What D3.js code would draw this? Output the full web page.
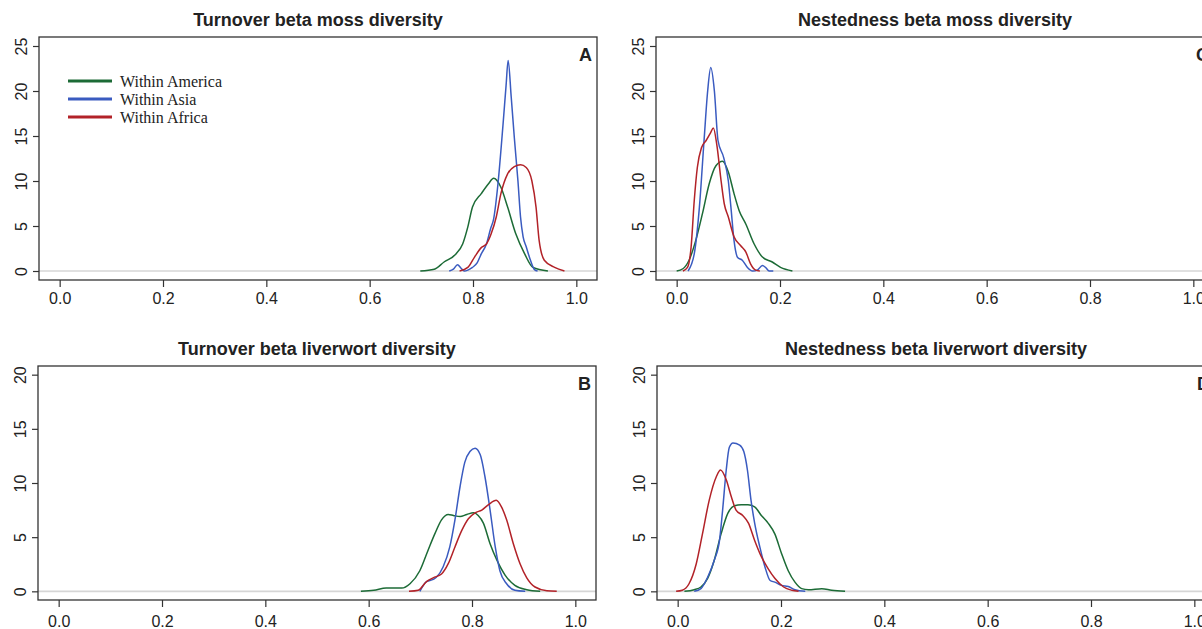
<!doctype html>
<html>
<head>
<meta charset="utf-8">
<title>Beta diversity density curves</title>
<script src="https://d3js.org/d3.v7.min.js"></script>
<style>
  body { margin: 0; background: #fff; }
  svg { display: block; }
</style>
</head>
<body>
<script>
// series colours and legend names
var seriesNames = ["Within America", "Within Asia", "Within Africa"];
var seriesColors = ["#1c6b36", "#3a5bc0", "#b22228"];

var xTicks = [0, 0.2, 0.4, 0.6, 0.8, 1.0];
var yTicksMoss = [0, 5, 10, 15, 20, 25];
var yTicksLiver = [0, 5, 10, 15, 20];

// A - turnover, moss  [beta, density]
var turnMossAmerica = [[0.698,0],[0.725,0.2],[0.744,1.0],[0.767,1.9],[0.78,3.0],[0.79,4.9],[0.799,7.1],[0.816,8.6],[0.83,9.7],[0.84,10.3],[0.854,9.3],[0.867,7.1],[0.883,4.1],[0.9,1.9],[0.916,0.4],[0.945,0]];
var turnMossAsia = [[0.754,0],[0.762,0.2],[0.770,0.7],[0.777,0.3],[0.783,0],[0.790,0.1],[0.799,0.4],[0.808,0.9],[0.816,1.9],[0.826,3.0],[0.834,4.7],[0.840,5.8],[0.848,9.5],[0.858,16.2],[0.864,20.6],[0.868,23.4],[0.874,19.3],[0.880,14.8],[0.887,10.0],[0.892,6.0],[0.897,3.8],[0.903,2.7],[0.910,1.4],[0.919,0.15],[0.925,0]];
var turnMossAfrica = [[0.774,0],[0.79,0.4],[0.803,1.55],[0.816,2.6],[0.826,3.0],[0.835,4.1],[0.845,6.0],[0.854,8.6],[0.867,10.8],[0.88,11.6],[0.892,11.8],[0.903,11.5],[0.914,10.0],[0.922,7.1],[0.928,3.4],[0.938,1.2],[0.958,0.4],[0.977,0]];

// C - nestedness, moss
var nestMossAmerica = [[0.0,0],[0.012,0.25],[0.024,1.2],[0.037,3.4],[0.05,6.4],[0.063,9.7],[0.076,11.7],[0.089,12.2],[0.1,11.0],[0.111,8.6],[0.121,6.7],[0.134,5.2],[0.15,3.0],[0.166,1.55],[0.185,1.0],[0.201,0.4],[0.224,0]];
var nestMossAsia = [[0.022,0],[0.034,1.9],[0.044,7.1],[0.053,14.5],[0.06,20.0],[0.066,22.6],[0.073,20],[0.08,14.5],[0.091,12.6],[0.1,10],[0.105,7.1],[0.111,3.4],[0.118,1.5],[0.127,1.2],[0.137,0.4],[0.147,0],[0.156,0.1],[0.166,0.6],[0.172,0.4],[0.179,0],[0.187,0]];
var nestMossAfrica = [[0.012,0],[0.021,0.4],[0.028,2.7],[0.034,7.8],[0.04,11.5],[0.048,13.7],[0.057,14.5],[0.066,15.4],[0.071,15.9],[0.078,13.9],[0.086,10],[0.092,7.5],[0.1,6.0],[0.111,3.8],[0.124,2.8],[0.134,2.1],[0.143,0.8],[0.153,0.1],[0.161,0]];

// B - turnover, liverwort
var turnLiverAmerica = [[0.585,0],[0.61,0.1],[0.634,0.3],[0.664,0.3],[0.68,0.7],[0.699,1.9],[0.715,3.8],[0.728,5.3],[0.741,6.6],[0.754,7.1],[0.764,7.0],[0.777,6.9],[0.79,7.1],[0.803,7.25],[0.812,7.0],[0.822,6.3],[0.835,4.4],[0.848,2.9],[0.864,1.5],[0.883,0.55],[0.906,0.15],[0.932,0]];
var turnLiverAsia = [[0.699,0],[0.712,0.9],[0.725,1.1],[0.731,1.3],[0.744,2.25],[0.757,4.1],[0.767,6.6],[0.777,9.7],[0.786,11.9],[0.796,12.9],[0.806,13.2],[0.816,12.6],[0.825,10.6],[0.835,7.5],[0.845,4.1],[0.854,1.9],[0.867,0.7],[0.883,0.1],[0.903,0]];
var turnLiverAfrica = [[0.678,0],[0.696,0.1],[0.712,0.9],[0.725,1.25],[0.741,1.6],[0.754,2.55],[0.767,4.1],[0.78,5.6],[0.793,6.7],[0.806,7.25],[0.819,7.5],[0.832,8.0],[0.847,8.4],[0.857,7.8],[0.867,6.6],[0.88,4.4],[0.893,2.55],[0.906,1.25],[0.922,0.4],[0.945,0.05],[0.964,0]];

// D - nestedness, liverwort
var nestLiverAmerica = [[0.013,0],[0.032,0.15],[0.045,0.4],[0.058,1.2],[0.071,2.9],[0.084,5.3],[0.097,7.2],[0.11,7.9],[0.123,8.0],[0.136,8.0],[0.149,7.8],[0.162,7.0],[0.175,6.3],[0.188,5.3],[0.201,3.5],[0.214,1.9],[0.227,0.85],[0.24,0.25],[0.253,0.15],[0.279,0.25],[0.298,0.1],[0.324,0]];
var nestLiverAsia = [[0.032,0],[0.045,0.25],[0.058,1.3],[0.071,2.9],[0.081,4.7],[0.087,7.5],[0.094,11.2],[0.1,13.3],[0.107,13.7],[0.12,13.5],[0.128,12.9],[0.135,11.2],[0.142,8.4],[0.149,6.3],[0.159,4.1],[0.169,2.25],[0.179,1.0],[0.188,0.85],[0.201,0.55],[0.214,0.45],[0.227,0.15],[0.247,0]];
var nestLiverAfrica = [[-0.003,0],[0.009,0.1],[0.022,0.7],[0.036,2.55],[0.048,5.3],[0.061,8.4],[0.075,10.6],[0.083,11.2],[0.094,10.3],[0.104,8.7],[0.113,7.5],[0.126,7.0],[0.137,6.3],[0.149,4.7],[0.162,3.2],[0.175,2.1],[0.188,1.2],[0.205,0.4],[0.221,0.1],[0.234,0]];

var W = 1202, H = 629;

var panels = [
  { title: "Turnover beta moss diversity", tag: "A", left: 39, top: 37, right: 597, bottom: 280,
    ymax: 25, yTicks: yTicksMoss, legend: true, pad: 6,
    series: [turnMossAmerica, turnMossAsia, turnMossAfrica] },
  { title: "Nestedness beta moss diversity", tag: "C", left: 656, top: 37, right: 1214, bottom: 280,
    ymax: 25, yTicks: yTicksMoss, legend: false, pad: 6,
    series: [nestMossAmerica, nestMossAsia, nestMossAfrica] },
  { title: "Turnover beta liverwort diversity", tag: "B", left: 38, top: 366, right: 596, bottom: 600,
    ymax: 20, yTicks: yTicksLiver, legend: false, pad: 9,
    series: [turnLiverAmerica, turnLiverAsia, turnLiverAfrica] },
  { title: "Nestedness beta liverwort diversity", tag: "D", left: 657, top: 366, right: 1215, bottom: 600,
    ymax: 20, yTicks: yTicksLiver, legend: false, pad: 9,
    series: [nestLiverAmerica, nestLiverAsia, nestLiverAfrica] }
];

var svg = d3.select("body").append("svg")
    .attr("width", W)
    .attr("height", H);

svg.append("rect").attr("width", W).attr("height", H).attr("fill", "#fff");

var axisCol = "#333";
var fmt = d3.format(".1f");

panels.forEach(function(p) {
  // R style: 4% padding on each side of the limits
  var x = d3.scaleLinear().domain([-0.04, 1.04]).range([p.left, p.right]);
  var y = d3.scaleLinear().domain([-0.04 * p.ymax, 1.04 * p.ymax]).range([p.bottom, p.top]);

  var g = svg.append("g");

  // grey zero line
  g.append("line")
    .attr("x1", p.left).attr("x2", p.right)
    .attr("y1", y(0)).attr("y2", y(0))
    .attr("stroke", "#d6d6d6")
    .attr("stroke-width", 1.6);

  var line = d3.line()
    .x(function(d) { return x(d[0]); })
    .y(function(d) { return y(d[1]); })
    .curve(d3.curveMonotoneX);

  p.series.forEach(function(s, i) {
    g.append("path")
      .datum(s)
      .attr("d", line)
      .attr("fill", "none")
      .attr("stroke", seriesColors[i])
      .attr("stroke-width", 1.5)
      .attr("stroke-linejoin", "round");
  });

  // box
  g.append("rect")
    .attr("x", p.left).attr("y", p.top)
    .attr("width", p.right - p.left).attr("height", p.bottom - p.top)
    .attr("fill", "none")
    .attr("stroke", axisCol)
    .attr("stroke-width", 1.3);

  // x axis
  var xa = g.append("g")
    .attr("transform", "translate(0," + p.bottom + ")")
    .call(d3.axisBottom(x).tickValues(xTicks).tickFormat(fmt).tickSize(7).tickPadding(p.pad));
  xa.select(".domain").remove();
  xa.selectAll("line").attr("stroke", axisCol).attr("stroke-width", 1.2);
  xa.selectAll("text")
    .attr("fill", "#222")
    .attr("font-family", "'Liberation Sans', Arial, sans-serif")
    .attr("font-size", 16);

  // y axis, labels turned like R's default
  var ya = g.append("g")
    .attr("transform", "translate(" + p.left + ",0)")
    .call(d3.axisLeft(y).tickValues(p.yTicks).tickSize(6).tickFormat(d3.format("d")));
  ya.select(".domain").remove();
  ya.selectAll("line").attr("stroke", axisCol).attr("stroke-width", 1.2);
  ya.selectAll("text")
    .attr("x", null).attr("dy", null)
    .attr("transform", "translate(-18,0) rotate(-90)")
    .attr("text-anchor", "middle")
    .attr("dominant-baseline", "central")
    .attr("fill", "#222")
    .attr("font-family", "'Liberation Sans', Arial, sans-serif")
    .attr("font-size", 16);

  // title
  g.append("text")
    .attr("x", (p.left + p.right) / 2)
    .attr("y", p.top - 11)
    .attr("text-anchor", "middle")
    .attr("font-family", "'Liberation Sans', Arial, sans-serif")
    .attr("font-weight", "bold")
    .attr("font-size", 18)
    .attr("fill", "#222")
    .text(p.title);

  // panel letter
  g.append("text")
    .attr("x", p.right - 5)
    .attr("y", p.top + 24)
    .attr("text-anchor", "end")
    .attr("font-family", "'Liberation Sans', Arial, sans-serif")
    .attr("font-weight", "bold")
    .attr("font-size", 18)
    .attr("fill", "#222")
    .text(p.tag);

  if (p.legend) {
    var lg = g.append("g");
    seriesNames.forEach(function(name, i) {
      var ly = 81 + i * 18;
      lg.append("line")
        .attr("x1", 68).attr("x2", 112)
        .attr("y1", ly).attr("y2", ly)
        .attr("stroke", seriesColors[i])
        .attr("stroke-width", 3);
      lg.append("text")
        .attr("x", 120).attr("y", ly)
        .attr("dominant-baseline", "central")
        .attr("font-family", "'Liberation Serif', 'Times New Roman', serif")
        .attr("font-size", 16)
        .attr("fill", "#222")
        .text(name);
    });
  }
});
</script>
</body>
</html>
